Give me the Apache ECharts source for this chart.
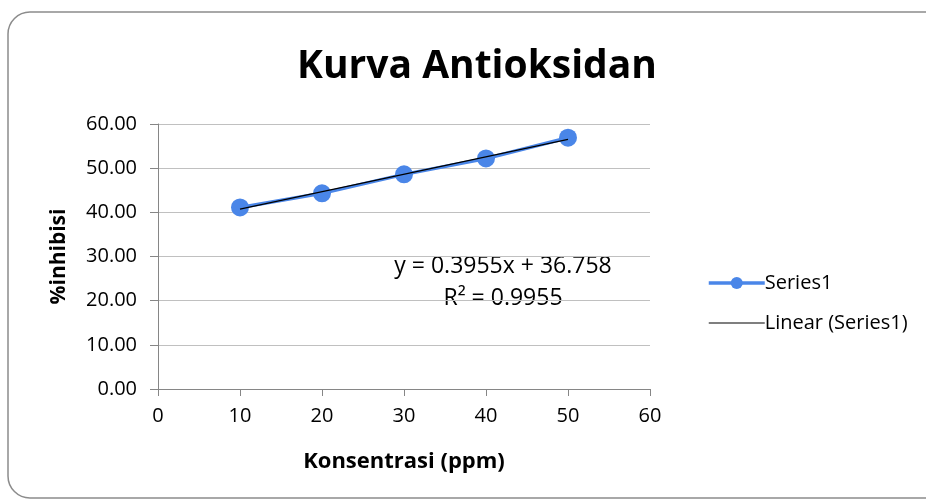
<!DOCTYPE html>
<html>
<head>
<meta charset="utf-8">
<script src="https://cdn.jsdelivr.net/npm/echarts@6.0.0/dist/echarts.min.js"></script>
<style>
  html, body { margin: 0; padding: 0; background: #fff; }
  #chart { width: 926px; height: 500px; }
</style>
</head>
<body>
<div id="chart"></div>
<script>
// concentration (ppm) and % inhibition
var konsentrasi = [10, 20, 30, 40, 50];
var inhibisi = [41.1, 44.3, 48.6, 52.2, 56.9];
// linear trendline as printed on the chart
var trendSlope = 0.3955;
var trendIntercept = 36.758;
var trendLabel = ["y = 0.3955x + 36.758", "R\u00b2 = 0.9955"];

var FONT = "Open Sans";
var blue = "#4a86e8";

var pts = konsentrasi.map(function (x, i) { return [x, inhibisi[i]]; });
var xFirst = konsentrasi[0], xLast = konsentrasi[konsentrasi.length - 1];
var trendPts = [
  [xFirst, trendSlope * xFirst + trendIntercept],
  [xLast, trendSlope * xLast + trendIntercept]
];

var chart = echarts.init(document.getElementById("chart"));

chart.setOption({
  animation: false,
  backgroundColor: "#fff",
  textStyle: { fontFamily: FONT },
  title: {
    text: "Kurva Antioksidan",
    left: 472, top: 42, textAlign: "center",
    textStyle: { fontFamily: FONT, fontWeight: "bold", fontSize: 39, color: "#000" }
  },
  graphic: [{
    type: "rect", silent: true, z: -1,
    shape: { x: 8, y: 12, width: 945, height: 486, r: 22 },
    style: { fill: "#fff", stroke: "#8c8c8c", lineWidth: 1.5 }
  }, {
    type: "text", silent: true,
    style: {
      x: 503, y: 282, text: trendLabel.join("\n"),
      align: "center", verticalAlign: "middle",
      font: "23px '" + FONT + "'", fill: "#000", lineHeight: 32
    }
  }],
  legend: {
    orient: "vertical", left: 702, top: 268, itemGap: 20,
    itemWidth: 56, itemHeight: 15,
    textStyle: { fontFamily: FONT, fontSize: 20, color: "#000", padding: [0, 0, 0, -5] },
    data: [
      { name: "Series1", itemStyle: { color: blue }, lineStyle: { width: 3.5, color: blue } },
      { name: "Linear (Series1)", itemStyle: { color: "rgba(0,0,0,0)", borderWidth: 0 },
        lineStyle: { width: 1.2, color: "#000" } }
    ]
  },
  grid: { left: 158, right: 276, top: 124, bottom: 111 },
  xAxis: {
    type: "value", min: 0, max: 60, interval: 10,
    name: "Konsentrasi (ppm)", nameLocation: "middle", nameGap: 62,
    nameTextStyle: { fontFamily: FONT, fontWeight: "bold", fontSize: 22, color: "#000" },
    axisLine: { lineStyle: { color: "#868686", width: 1 } },
    axisTick: { show: true, length: 7, lineStyle: { color: "#868686" } },
    axisLabel: { fontFamily: FONT, fontSize: 20, color: "#000", margin: 17 },
    splitLine: { show: false }
  },
  yAxis: {
    type: "value", min: 0, max: 60, interval: 10,
    name: "%inhibisi", nameLocation: "middle", nameGap: 88, nameRotate: 90,
    nameTextStyle: { fontFamily: FONT, fontWeight: "bold", fontSize: 21, color: "#000" },
    axisLine: { show: true, lineStyle: { color: "#868686", width: 1 } },
    axisTick: { show: true, length: 8, lineStyle: { color: "#868686" } },
    axisLabel: {
      fontFamily: FONT, fontSize: 20, color: "#000", margin: 21,
      formatter: function (v) { return v.toFixed(2); }
    },
    splitLine: { lineStyle: { color: "#c0c0c0", width: 1 } }
  },
  series: [{
    name: "Series1", type: "line", data: pts,
    symbol: "circle", symbolSize: 18,
    lineStyle: { color: blue, width: 3.5 },
    itemStyle: { color: blue },
    z: 2
  }, {
    name: "Linear (Series1)", type: "line", data: trendPts,
    symbol: "none",
    lineStyle: { color: "#000", width: 1.2 },
    itemStyle: { color: "#000" },
    z: 3
  }]
});
</script>
</body>
</html>
